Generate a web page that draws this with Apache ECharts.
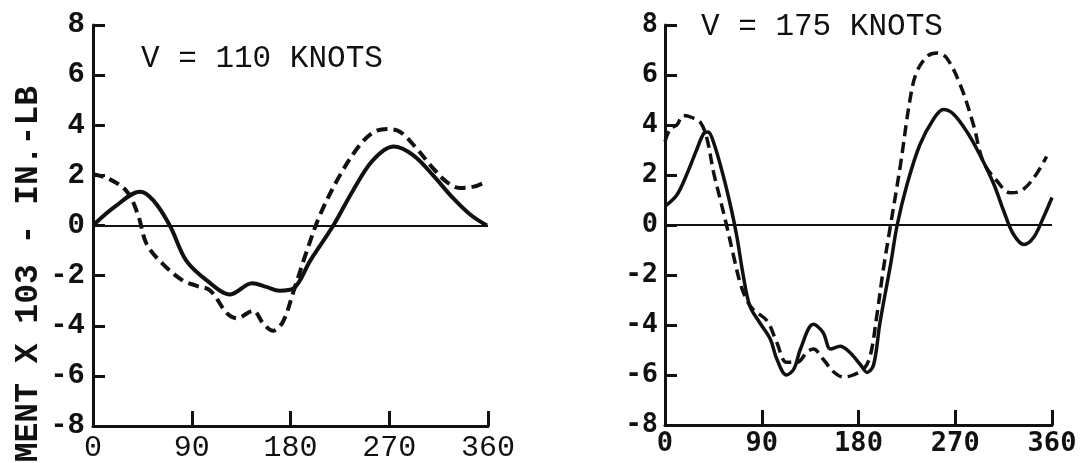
<!DOCTYPE html>
<html>
<head>
<meta charset="utf-8">
<script src="https://cdn.jsdelivr.net/npm/echarts@6/dist/echarts.min.js"></script>
<style>
  html, body { margin: 0; padding: 0; background: #ffffff; }
  #chart { width: 1091px; height: 463px; }
</style>
</head>
<body>
<div id="chart"></div>
<script>
// Azimuth angle (deg) and moment (x 10^3 in.-lb) for each trace
const xTicks = [0, 90, 180, 270, 360];
const yTicks = [-8, -6, -4, -2, 0, 2, 4, 6, 8];

const titleLeft = 'V = 110 KNOTS';
const titleRight = 'V = 175 KNOTS';
const axisName = 'MENT X 103 - IN.-LB';

// V = 110 knots, solid trace
const slowSolidDeg = [0, 20, 43, 55, 70, 85, 104, 125, 145, 158, 170, 183, 198, 219, 237, 255, 274, 292, 310, 328, 344, 359];
const slowSolidVal = [0, 0.75, 1.35, 1.0, 0, -1.4, -2.2, -2.75, -2.3, -2.45, -2.6, -2.5, -1.4, 0, 1.4, 2.6, 3.15, 2.8, 2.0, 1.1, 0.43, 0];

// V = 110 knots, dashed trace
const slowDashDeg = [0, 15, 31, 41, 49, 64, 82, 94, 107, 122, 131, 146, 155, 164, 173, 183, 195, 207, 225, 243, 256, 268, 280, 295, 310, 322, 334, 347, 356];
const slowDashVal = [2.05, 1.85, 1.35, 0.43, -0.75, -1.55, -2.2, -2.4, -2.6, -3.5, -3.7, -3.4, -3.9, -4.2, -3.85, -2.6, -1.0, 0.43, 2.0, 3.2, 3.73, 3.85, 3.73, 3.07, 2.28, 1.75, 1.5, 1.55, 1.7];

// V = 175 knots, solid trace
const fastSolidDeg = [0, 11, 20, 30, 36, 40, 45, 54, 62, 67, 73, 79, 88, 98, 104, 113, 120, 126, 138, 147, 154, 163, 172, 182, 188, 194, 200, 210, 216, 225, 237, 250, 259, 268, 281, 293, 306, 315, 324, 334, 343, 352, 360];
const fastSolidVal = [0.75, 1.2, 2.0, 3.07, 3.66, 3.72, 3.33, 2.0, 0.57, -0.5, -2.07, -3.25, -3.9, -4.57, -5.36, -6.0, -5.75, -4.96, -3.97, -4.3, -4.96, -4.85, -5.1, -5.6, -5.9, -5.6, -3.9, -1.54, 0, 1.6, 3.2, 4.25, 4.62, 4.45, 3.72, 2.8, 1.62, 0.57, -0.36, -0.78, -0.49, 0.3, 1.1];

// V = 175 knots, dashed trace
const fastDashDeg = [0, 5, 11, 17, 25, 33, 39, 45, 51, 57, 64, 70, 76, 82, 95, 104, 113, 123, 132, 138, 147, 157, 166, 175, 185, 191, 197, 203, 210, 219, 228, 234, 244, 253, 262, 275, 287, 296, 309, 321, 331, 343, 355];
const fastDashVal = [3.33, 3.86, 4.0, 4.38, 4.3, 4.1, 3.46, 2.14, 1.09, 0.04, -1.28, -2.33, -3.0, -3.38, -3.84, -4.7, -5.49, -5.49, -5.09, -4.96, -5.36, -5.88, -6.08, -6.0, -5.75, -5.22, -3.64, -1.8, 0.04, 2.4, 5.04, 6.1, 6.75, 6.88, 6.68, 5.57, 4.0, 2.54, 1.75, 1.29, 1.36, 1.88, 2.74];

const pairs = (xs, ys) => xs.map((x, i) => [x, ys[i]]);

const INK = '#111111';
const serifMono = 'Liberation Mono, Courier New, monospace';
const sansMono = 'DejaVu Sans Mono, monospace';

function xAxisFor(gridIndex, font, size, weight, margin) {
  return {
    type: 'value', gridIndex,
    min: xTicks[0], max: xTicks[xTicks.length - 1], interval: 90,
    axisLine: { onZero: false, lineStyle: { color: INK, width: 3 } },
    axisTick: { inside: true, length: 15, lineStyle: { color: INK, width: 3 } },
    splitLine: { show: false },
    axisLabel: { color: INK, fontFamily: font, fontSize: size, fontWeight: weight, margin,
      customValues: xTicks }
  };
}
function yAxisFor(gridIndex, font, size, margin) {
  return {
    type: 'value', gridIndex,
    min: yTicks[0], max: yTicks[yTicks.length - 1], interval: 2,
    axisLine: { onZero: false, lineStyle: { color: INK, width: 3 } },
    axisTick: { inside: true, length: 12, lineStyle: { color: INK, width: 3 } },
    splitLine: { show: false },
    axisLabel: { color: INK, fontFamily: font, fontSize: size, fontWeight: 'bold', margin }
  };
}
function trace(idx, data, dashed, width) {
  return {
    type: 'line', xAxisIndex: idx, yAxisIndex: idx,
    data, smooth: 0.35, symbol: 'none', silent: true,
    lineStyle: { color: INK, width, type: dashed ? [11, 6] : 'solid', cap: 'butt' }
  };
}
const zeroLine = {
  silent: true, symbol: ['none', 'none'], label: { show: false },
  lineStyle: { type: 'solid', color: INK, width: 2 },
  data: [{ yAxis: 0 }]
};

const chart = echarts.init(document.getElementById('chart'), null, { renderer: 'canvas' });
const solidA = trace(0, pairs(slowSolidDeg, slowSolidVal), false, 4);
solidA.markLine = zeroLine;
const solidB = trace(1, pairs(fastSolidDeg, fastSolidVal), false, 3.5);
solidB.markLine = zeroLine;

chart.setOption({
  backgroundColor: '#ffffff',
  animation: false,
  grid: [
    { left: 93, right: 603, top: 25, bottom: 36 },
    { left: 665, right: 39, top: 25, bottom: 38 }
  ],
  xAxis: [xAxisFor(0, serifMono, 30, 'normal', 7), xAxisFor(1, sansMono, 27, 'bold', 5)],
  yAxis: [yAxisFor(0, serifMono, 29, 8), yAxisFor(1, sansMono, 27, 7)],
  title: [
    { text: titleLeft, left: 136, top: 38,
      textStyle: { color: INK, fontFamily: serifMono, fontSize: 31, fontWeight: 'normal' } },
    { text: titleRight, left: 696, top: 6,
      textStyle: { color: INK, fontFamily: serifMono, fontSize: 31, fontWeight: 'normal' } }
  ],
  graphic: [{
    type: 'text', left: 12, top: 86, rotation: Math.PI / 2,
    style: { text: axisName, fill: INK, font: 'bold 33px "Liberation Mono", monospace' }
  }],
  series: [
    solidA,
    trace(0, pairs(slowDashDeg, slowDashVal), true, 4),
    solidB,
    trace(1, pairs(fastDashDeg, fastDashVal), true, 3.5)
  ]
});
</script>
</body>
</html>
